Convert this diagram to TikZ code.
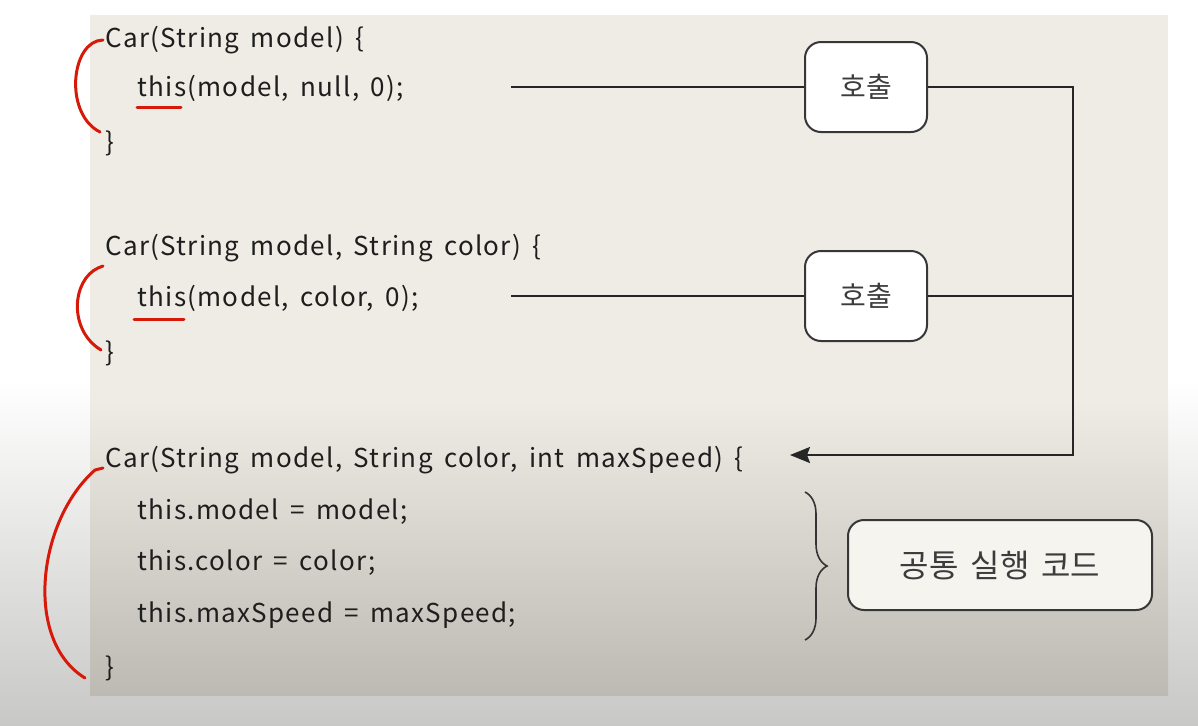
\documentclass[tikz,border=0pt]{standalone}
\usepackage{fontspec}
\setmainfont{Noto Sans CJK KR}
\newfontfamily\codefont{Noto Sans CJK KR}[LetterSpace=5,WordSpace=1.6]
\usetikzlibrary{positioning,arrows.meta,decorations.pathreplacing}
\definecolor{panel}{RGB}{239,236,229}
\definecolor{panellow}{RGB}{188,186,178}
\definecolor{screenlow}{RGB}{200,200,198}
\definecolor{codetext}{RGB}{30,30,30}
\definecolor{boxline}{RGB}{55,55,55}
\definecolor{labeltext}{RGB}{60,60,60}
\definecolor{pen}{RGB}{215,25,10}

\begin{document}
\begin{tikzpicture}[x=0.5pt,y=-0.5pt,
  code/.style={anchor=west,inner sep=0pt,font=\codefont\fontsize{13}{15}\selectfont,text=codetext},
  callbox/.style={draw=boxline,line width=1pt,rounded corners=8pt,fill=white,
    minimum width=61pt,minimum height=45pt,font=\fontsize{14}{16}\selectfont,text=labeltext},
  link/.style={line width=1pt,draw=black!85},
  redpen/.style={draw=pen,line width=1.5pt,line cap=round,line join=round}]
\useasboundingbox (0,0) rectangle (1198,725);

% screen and slide background
\fill[white] (0,0) rectangle (1198,725);
\shade[top color=white,bottom color=screenlow] (0,380) rectangle (1198,725);
\fill[panel] (90,15) rectangle (1168,400);
\shade[top color=panel,bottom color=panellow] (90,400) rectangle (1168,695);

\def\xa{105}
\def\xb{137}

% constructor 1
\node[code] (c1) at (\xa,40) {Car(String model) \{};
\node[code] (c1body) at (\xb,88) {this(model, null, 0);};
\node[code] (c1end) at (\xa,143) {\}};

% constructor 2
\node[code] (c2) at (\xa,248) {Car(String model, String color) \{};
\node[code] (c2body) at (\xb,298) {this(model, color, 0);};
\node[code] (c2end) at (\xa,353) {\}};

% constructor 3
\node[code] (c3) at (\xa,460) {Car(String model, String color, int maxSpeed) \{};
\node[code] (c3a) at (\xb,512) {this.model = model;};
\node[code] (c3b) at (\xb,563) {this.color = color;};
\node[code] (c3c) at (\xb,615) {this.maxSpeed = maxSpeed;};
\node[code] (c3end) at (\xa,668) {\}};

% call boxes
\node[callbox] (call1) at (866,87) {호출};
\node[callbox] (call2) at (866,296) {호출};
\node[callbox,fill=panel!60!white,minimum width=152pt,font=\fontsize{16}{18}\selectfont] (common) at (1000,565) {공통\hspace{6pt}실행\hspace{6pt}코드};

\coordinate (s1) at (511,87);
\coordinate (s2) at (511,296);
\coordinate (turn) at (1073,455);
\coordinate (tip) at (790,455);

\draw[link] (s1) -- (call1);
\draw[link] (s2) -- (call2);
\draw[link,-{Stealth[length=10pt,width=8pt,inset=1.5pt]}] (call1.east) -| (turn) -- (tip);
\draw[link] (call2.east) -| (turn);

% brace over the shared lines
\coordinate (btop) at (805,492);
\coordinate (bbot) at (805,640);
\draw[line width=0.8pt,draw=black!80,decorate,decoration={brace,amplitude=11pt}] (btop) -- (bbot);

% red pen marks
\draw[redpen] (103,40) -- (97,41) .. controls (70,50) and (66,115) .. (100,132);
\draw[redpen] (103,266) -- (98,268) .. controls (72,280) and (68,330) .. (101,350);
\draw[redpen] (103,468) -- (95,470) .. controls (38,520) and (23,640) .. (85,678);
\draw[redpen] (137,107) -- (181,107);
\draw[redpen] (134,319) -- (184,319);

\end{tikzpicture}
\end{document}
